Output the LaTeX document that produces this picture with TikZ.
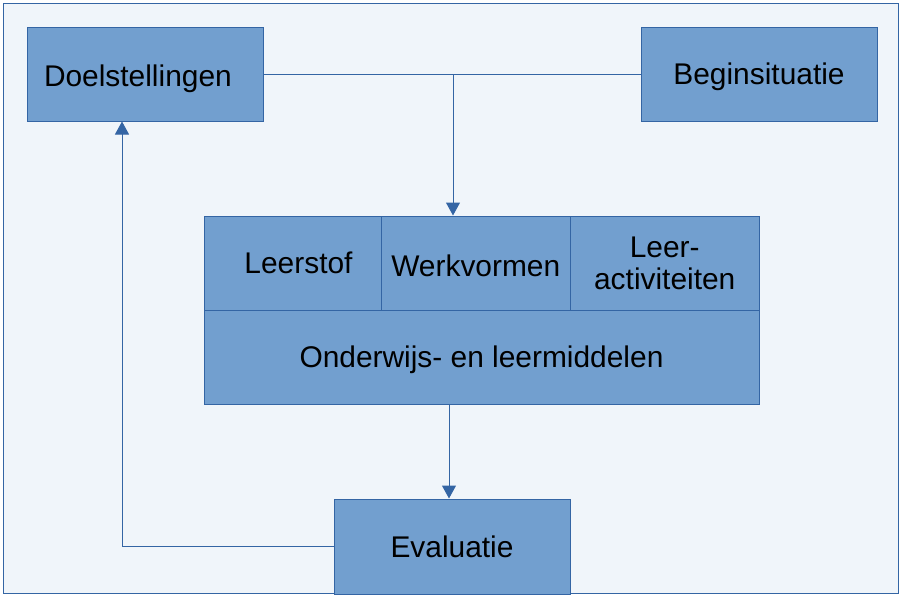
\documentclass[tikz,border=0pt]{standalone}
\usepackage{fontspec}
\setmainfont{Liberation Sans}
\usetikzlibrary{arrows.meta}
\definecolor{boxfill}{HTML}{729FCF}
\definecolor{boxline}{HTML}{3465A4}
\definecolor{bgfill}{HTML}{F0F5FA}
\begin{document}
\begin{tikzpicture}[x=1pt,y=-1pt,
  box/.style={draw=boxline, fill=boxfill, line width=1pt, inner sep=0pt,
    font=\fontsize{29.9}{32}\selectfont, text height=21pt, text depth=0pt},
  conn/.style={draw=boxline, line width=1pt},
  arr/.style={conn, -{Triangle[width=14pt,length=13pt]}}]
\useasboundingbox (0,0) rectangle (902,597);
\node[draw=boxline, fill=bgfill, line width=1pt, minimum width=895pt,
  minimum height=590pt, inner sep=0pt] (frame) at (450.5,298) {};
\node[box, minimum width=236pt, minimum height=94pt, text width=202pt, align=left,
  text height=25pt] (doel) at (145,74) {Doelstellingen};
\node[box, minimum width=236pt, minimum height=94pt] (begin) at (759,74) {Beginsituatie};
\node[box, minimum width=177pt, minimum height=94pt, text width=177pt, align=center] (stof) at (292.5,263) {\hspace*{12pt}Leerstof};
\node[box, minimum width=189.5pt, minimum height=94pt, text height=26pt] (werk) at (475.75,263) {Werkvormen};
\node[box, minimum width=189.5pt, minimum height=94pt, align=center,
  text height={}, text depth={}] (act) at (664.75,263) {Leer-\\activiteiten};
\node[box, minimum width=555pt, minimum height=94pt] (onder) at (481.5,357) {Onderwijs- en leermiddelen};
\node[box, minimum width=236pt, minimum height=95pt] (eval) at (452,546.5) {Evaluatie};
\coordinate (split) at (453,74);
\coordinate (down) at (449,0);
\coordinate (back) at (122,0);
\draw[conn] (doel.east) -- (begin.west);
\draw[arr] (split) -- (split |- werk.north);
\draw[arr] (onder.south -| down) -- (eval.north -| down);
\draw[arr] (eval.west) -| (doel.south -| back);
\end{tikzpicture}
\end{document}
